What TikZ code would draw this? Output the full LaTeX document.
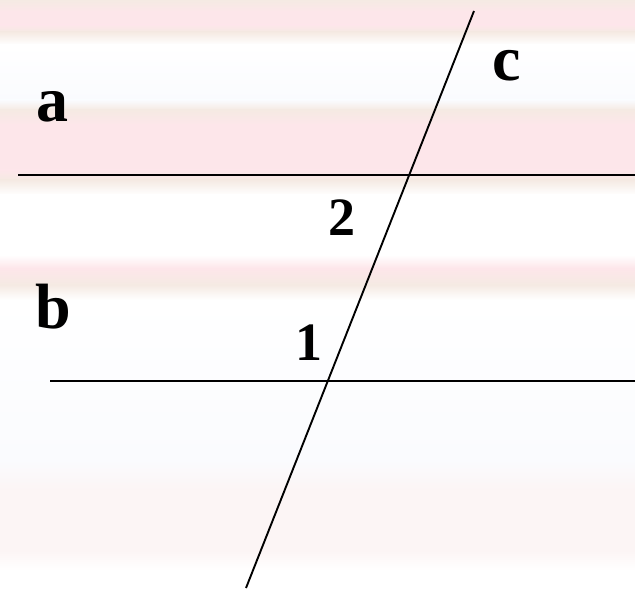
\documentclass[tikz,border=0pt]{standalone}
\usepackage{fontspec}
\setmainfont{Liberation Serif}
\usetikzlibrary{positioning}
\definecolor{bgpink}{HTML}{FDE6EA}
\definecolor{bgbeige}{HTML}{F5EAE3}
\definecolor{bgfaint}{HTML}{FCF5F5}
\definecolor{bgblue}{HTML}{FAFBFE}

\begin{document}
\begin{tikzpicture}[
    x=1pt, y=1pt,
    letternode/.style={anchor=base, inner sep=0pt, font=\fontsize{64}{70}\selectfont\bfseries},
    numnode/.style={anchor=base, inner sep=0pt, font=\fontsize{54}{60}\selectfont\bfseries},
    lineseg/.style={line width=1.9pt, black}
]
\useasboundingbox (0,0) rectangle (635,-591);

% --- 1. STRIPED BACKGROUND ---
\foreach \ya/\ca/\yb/\cb in {
    0/bgbeige/12/bgpink, 12/bgpink/25/bgpink, 25/bgpink/32/bgbeige,
    32/bgbeige/45/white, 45/white/100/bgblue, 100/bgblue/110/bgbeige,
    110/bgbeige/125/bgpink, 125/bgpink/170/bgpink, 170/bgpink/180/bgbeige,
    180/bgbeige/195/white, 195/white/255/white, 255/white/268/bgpink,
    268/bgpink/285/bgbeige, 285/bgbeige/300/white, 300/white/460/bgblue,
    460/bgblue/490/bgfaint, 490/bgfaint/530/bgfaint, 530/bgfaint/550/bgfaint,
    550/bgfaint/570/white, 570/white/591/white}
    \shade[top color=\ca, bottom color=\cb] (0,-\ya) rectangle (635,-\yb);

% --- 2. PARALLEL LINES AND TRANSVERSAL ---
\coordinate (aL) at (18,-175);
\coordinate (aR) at (635,-175);
\coordinate (bL) at (50,-381);
\coordinate (bR) at (635,-381);
\coordinate (cT) at (474,-11);
\coordinate (cB) at (246,-588);

\draw[lineseg] (aL) -- (aR);
\draw[lineseg] (bL) -- (bR);
\draw[lineseg] (cT) -- (cB);

% --- 3. LABELS ---
\node[letternode] (labA) at (52,-122) {a};
\node[letternode] (labB) at (53,-328) {b};
\node[letternode] (labC) at (507,-81) {c};
\node[numnode] (ang2) at (342,-236) {2};
\node[numnode] (ang1) at (309,-360) {1};

\end{tikzpicture}
\end{document}
